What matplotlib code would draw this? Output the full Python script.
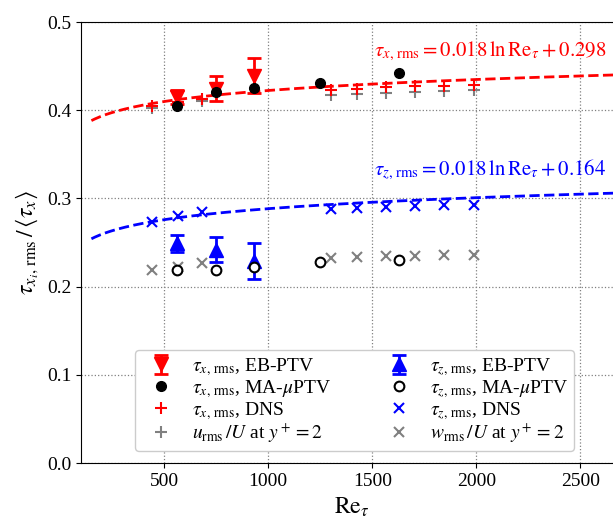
import numpy as np
import matplotlib
matplotlib.use("Agg")
import matplotlib.pyplot as plt

plt.rcParams['font.family'] = ['Liberation Serif', 'DejaVu Serif']
plt.rcParams['mathtext.fontset'] = 'stix'

# EB-PTV (errorbars)
re_eb = [563, 750, 933]
tx_eb = [0.415, 0.4245, 0.439]
tx_eb_err = [0.008, 0.0145, 0.02]
tz_eb = [0.249, 0.242, 0.229]
tz_eb_err = [0.010, 0.0145, 0.02]

# MA-muPTV
re_ma = [563, 750, 933, 1250, 1630]
tx_ma = [0.405, 0.421, 0.425, 0.431, 0.442]
tz_ma = [0.219, 0.219, 0.2226, 0.228, 0.230]

# DNS
re_dns = [441, 567, 683, 1303, 1428, 1567, 1707, 1846, 1990]
tx_dns = [0.405, 0.409, 0.413, 0.423, 0.424, 0.426, 0.427, 0.428, 0.429]
tz_dns = [0.2736, 0.280, 0.285, 0.288, 0.289, 0.2906, 0.2914, 0.2925, 0.2925]
u_rms = [0.402, 0.406, 0.410, 0.417, 0.418, 0.420, 0.421, 0.422, 0.423]
w_rms = [0.219, 0.2226, 0.227, 0.232, 0.233, 0.2347, 0.2347, 0.2358, 0.2358]

# log fits
fit_slope = 0.018
fit_x_off = 0.298
fit_z_off = 0.164

fig = plt.figure(figsize=(6.13, 5.20), dpi=100)
ax = fig.add_axes([81 / 613, 57 / 520, 541 / 613, 441 / 520])

re_fit = np.linspace(150, 2700, 300)
ax.plot(re_fit, fit_slope * np.log(re_fit) + fit_x_off, '--', color='red', lw=2, zorder=2)
ax.plot(re_fit, fit_slope * np.log(re_fit) + fit_z_off, '--', color='blue', lw=2, zorder=2)

h_u = ax.plot(re_dns, u_rms, '+', color='gray', ms=9, mew=1.5, zorder=3)[0]
h_txd = ax.plot(re_dns, tx_dns, '+', color='red', ms=9, mew=1.5, zorder=3)[0]
h_w = ax.plot(re_dns, w_rms, 'x', color='gray', ms=7, mew=1.5, zorder=3)[0]
h_tzd = ax.plot(re_dns, tz_dns, 'x', color='blue', ms=7, mew=1.5, zorder=3)[0]

h_eb_x = ax.errorbar(re_eb, tx_eb, yerr=tx_eb_err, fmt='v', color='red', ms=10,
                     capsize=5, capthick=2, elinewidth=2, zorder=4)
h_eb_z = ax.errorbar(re_eb, tz_eb, yerr=tz_eb_err, fmt='^', color='blue', ms=10,
                     capsize=5, capthick=2, elinewidth=2, zorder=4)

h_max = ax.plot(re_ma, tx_ma, 'o', color='black', ms=7, zorder=5)[0]
h_maz = ax.plot(re_ma, tz_ma, 'o', mfc='white', mec='black', mew=1.5, ms=7, zorder=5)[0]

# fit annotations
ax.text(1510, 0.467, r'$\tau_{x,\,\mathrm{rms}} = 0.018\,\ln\mathrm{Re}_\tau + 0.298$',
        color='red', fontsize=15, va='center')
ax.text(1510, 0.332, r'$\tau_{z,\,\mathrm{rms}} = 0.018\,\ln\mathrm{Re}_\tau + 0.164$',
        color='blue', fontsize=15, va='center')

ax.set_xlim(100, 2700)
ax.set_ylim(0, 0.5)
ax.set_xticks([500, 1000, 1500, 2000, 2500])
ax.set_yticks([0.0, 0.1, 0.2, 0.3, 0.4, 0.5])
ax.grid(True, linestyle=':', color='gray', lw=0.9)
ax.tick_params(labelsize=14)
ax.set_xlabel(r'$\mathrm{Re}_\tau$', fontsize=17)
ax.set_ylabel(r'$\tau_{x_i,\,\mathrm{rms}}\,/\,\langle\tau_x\rangle$', fontsize=17)

handles = [h_eb_x, h_max, h_txd, h_u, h_eb_z, h_maz, h_tzd, h_w]
labels = [
    r'$\tau_{x,\,\mathrm{rms}}$, EB-PTV',
    r'$\tau_{x,\,\mathrm{rms}}$, MA-$\mu$PTV',
    r'$\tau_{x,\,\mathrm{rms}}$, DNS',
    r'$u_\mathrm{rms}\,/U$ at $y^+=2$',
    r'$\tau_{z,\,\mathrm{rms}}$, EB-PTV',
    r'$\tau_{z,\,\mathrm{rms}}$, MA-$\mu$PTV',
    r'$\tau_{z,\,\mathrm{rms}}$, DNS',
    r'$w_\mathrm{rms}\,/U$ at $y^+=2$',
]
ax.legend(handles, labels, ncol=2, fontsize=14, loc='lower center',
          bbox_to_anchor=(0.506, 0.027), borderaxespad=0, labelspacing=0.0,
          handletextpad=0.6, columnspacing=2.5, framealpha=1, borderpad=0.3)

fig.savefig('out.png', dpi=100)
